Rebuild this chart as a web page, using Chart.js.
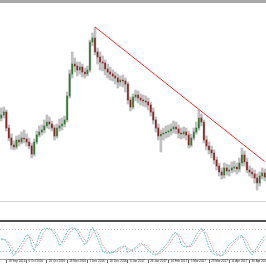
<!DOCTYPE html>
<html>
<head>
<meta charset="utf-8">
<script src="https://cdn.jsdelivr.net/npm/chart.js@4.4.0/dist/chart.umd.min.js"></script>
<style>
  html, body { margin: 0; padding: 0; background: #fff; }
  #wrap { position: relative; width: 266px; height: 266px; overflow: hidden; background: #fff; }
  #topbar { position: absolute; left: 0; top: 0; width: 266px; height: 3px; background: #a8a8a8; }
  #priceChart { position: absolute; left: 0; top: 3px; width: 266px; height: 217px; }
  #sep { position: absolute; left: 0; top: 220px; width: 266px; height: 2px; background: #505050; }
  #stochChart { position: absolute; left: 0; top: 222px; width: 266px; height: 44px; }
</style>
</head>
<body>
<div id="wrap">
  <div id="topbar"></div>
  <canvas id="priceChart" width="266" height="217"></canvas>
  <div id="sep"></div>
  <canvas id="stochChart" width="266" height="44"></canvas>
</div>
<script>
// date labels shown under the oscillator, one every 8 bars starting at bar 2
var tickLabels = ['18 Sep 2016', '6 Oct 2016', '26 Oct 2016', '13 Nov 2016', '1 Dec 2016', '20 Dec 2016',
  '6 Jan 2017', '26 Jan 2017', '14 Feb 2017', '5 Mar 2017', '23 Mar 2017', '11 Apr 2017', '30 Apr 2017'];
var firstTickBar = 2;
var barsPerTick = 8;

var opens = [
  0.9910, 0.9925, 0.9940, 0.9860, 0.9810, 0.9775, 0.9765, 0.9800, 0.9790, 0.9810,
  0.9805, 0.9790, 0.9770, 0.9730, 0.9790, 0.9825, 0.9840, 0.9850, 0.9870, 0.9890,
  0.9880, 0.9860, 0.9820, 0.9860, 0.9870, 0.9880, 0.9900, 1.0020, 1.0130, 1.0180,
  1.0170, 1.0150, 1.0165, 1.0140, 1.0130, 1.0150, 1.0290, 1.0310, 1.0240, 1.0215,
  1.0190, 1.0185, 1.0155, 1.0140, 1.0130, 1.0120, 1.0110, 1.0090, 1.0100, 1.0095,
  1.0080, 1.0000, 0.9965, 1.0015, 1.0025, 1.0010, 1.0000, 0.9995, 0.9990, 0.9975,
  0.9940, 0.9900, 0.9860, 0.9820, 0.9830, 0.9835, 0.9840, 0.9845, 0.9855, 0.9865,
  0.9855, 0.9835, 0.9830, 0.9840, 0.9825, 0.9775, 0.9810, 0.9840, 0.9860, 0.9910,
  0.9890, 0.9800, 0.9770, 0.9750, 0.9735, 0.9700, 0.9670, 0.9640, 0.9625, 0.9660,
  0.9645, 0.9650, 0.9660, 0.9665, 0.9655, 0.9685, 0.9725, 0.9690, 0.9650, 0.9640,
  0.9630, 0.9610, 0.9585, 0.9620, 0.9635
];
var highs = [
  0.9960, 0.9965, 0.9950, 0.9875, 0.9830, 0.9795, 0.9820, 0.9825, 0.9840, 0.9850,
  0.9830, 0.9810, 0.9785, 0.9805, 0.9845, 0.9870, 0.9875, 0.9900, 0.9925, 0.9915,
  0.9895, 0.9875, 0.9880, 0.9905, 0.9910, 0.9920, 1.0040, 1.0150, 1.0240, 1.0210,
  1.0190, 1.0190, 1.0180, 1.0160, 1.0170, 1.0300, 1.0335, 1.0365, 1.0260, 1.0240,
  1.0220, 1.0200, 1.0180, 1.0165, 1.0150, 1.0140, 1.0130, 1.0120, 1.0125, 1.0110,
  1.0090, 1.0015, 1.0030, 1.0050, 1.0045, 1.0030, 1.0025, 1.0020, 1.0010, 0.9990,
  0.9960, 0.9915, 0.9880, 0.9850, 0.9860, 0.9870, 0.9875, 0.9880, 0.9895, 0.9890,
  0.9875, 0.9860, 0.9865, 0.9860, 0.9845, 0.9830, 0.9860, 0.9890, 0.9950, 0.9930,
  0.9900, 0.9820, 0.9790, 0.9770, 0.9750, 0.9715, 0.9685, 0.9660, 0.9685, 0.9680,
  0.9675, 0.9690, 0.9695, 0.9685, 0.9710, 0.9760, 0.9745, 0.9710, 0.9670, 0.9660,
  0.9650, 0.9630, 0.9640, 0.9660, 0.9655
];
var lows = [
  0.9895, 0.9910, 0.9845, 0.9795, 0.9755, 0.9750, 0.9755, 0.9770, 0.9780, 0.9785,
  0.9770, 0.9755, 0.9710, 0.9720, 0.9780, 0.9815, 0.9825, 0.9835, 0.9860, 0.9855,
  0.9845, 0.9800, 0.9810, 0.9845, 0.9850, 0.9865, 0.9890, 1.0010, 1.0110, 1.0140,
  1.0120, 1.0130, 1.0115, 1.0110, 1.0120, 1.0140, 1.0270, 1.0225, 1.0180, 1.0150,
  1.0145, 1.0125, 1.0110, 1.0100, 1.0095, 1.0080, 1.0060, 1.0070, 1.0065, 1.0040,
  0.9980, 0.9945, 0.9955, 0.9995, 0.9985, 0.9975, 0.9970, 0.9965, 0.9950, 0.9920,
  0.9880, 0.9840, 0.9800, 0.9740, 0.9800, 0.9810, 0.9815, 0.9825, 0.9835, 0.9830,
  0.9810, 0.9805, 0.9810, 0.9800, 0.9760, 0.9765, 0.9800, 0.9830, 0.9850, 0.9870,
  0.9785, 0.9750, 0.9730, 0.9710, 0.9680, 0.9650, 0.9620, 0.9605, 0.9610, 0.9625,
  0.9620, 0.9635, 0.9640, 0.9630, 0.9640, 0.9670, 0.9670, 0.9635, 0.9620, 0.9610,
  0.9585, 0.9550, 0.9570, 0.9605, 0.9595
];
var closes = [
  0.9925, 0.9940, 0.9860, 0.9810, 0.9775, 0.9765, 0.9800, 0.9790, 0.9810, 0.9805,
  0.9790, 0.9770, 0.9730, 0.9790, 0.9825, 0.9840, 0.9850, 0.9870, 0.9890, 0.9880,
  0.9860, 0.9820, 0.9860, 0.9870, 0.9880, 0.9900, 1.0020, 1.0130, 1.0180, 1.0170,
  1.0150, 1.0165, 1.0140, 1.0130, 1.0150, 1.0290, 1.0310, 1.0240, 1.0215, 1.0190,
  1.0185, 1.0155, 1.0140, 1.0130, 1.0120, 1.0110, 1.0090, 1.0100, 1.0095, 1.0080,
  1.0000, 0.9965, 1.0015, 1.0025, 1.0010, 1.0000, 0.9995, 0.9990, 0.9975, 0.9940,
  0.9900, 0.9860, 0.9820, 0.9830, 0.9835, 0.9840, 0.9845, 0.9855, 0.9865, 0.9855,
  0.9835, 0.9830, 0.9840, 0.9825, 0.9775, 0.9810, 0.9840, 0.9860, 0.9910, 0.9890,
  0.9800, 0.9770, 0.9750, 0.9735, 0.9700, 0.9670, 0.9640, 0.9625, 0.9660, 0.9645,
  0.9650, 0.9660, 0.9665, 0.9655, 0.9685, 0.9725, 0.9690, 0.9650, 0.9640, 0.9630,
  0.9610, 0.9585, 0.9620, 0.9635, 0.9615
];

// stochastic oscillator, %K and %D
var stochMain = [
  52, 54, 47, 36, 20, 8, 20, 32, 42, 52,
  66, 62, 38, 22, 42, 65, 78, 82, 83, 82,
  77, 68, 56, 36, 45, 60, 72, 82, 84, 83,
  74, 62, 50, 38, 48, 74, 85, 72, 55, 38,
  22, 17, 16, 16, 18, 22, 28, 32, 34, 36,
  17, 22, 27, 31, 37, 43, 38, 32, 24, 17,
  12, 11, 16, 22, 29, 38, 46, 58, 69, 72,
  62, 40, 34, 32, 34, 37, 52, 66, 75, 83,
  74, 52, 32, 19, 13, 11, 9, 8, 18, 29,
  38, 45, 50, 56, 61, 64, 46, 30, 20, 11,
  22, 32, 45, 54, 62
];
var stochSignal = [
  55, 54, 51, 45, 34, 21, 16, 20, 31, 42,
  53, 60, 55, 41, 34, 43, 62, 75, 81, 82,
  81, 76, 67, 53, 46, 47, 59, 71, 79, 83,
  80, 73, 62, 50, 45, 53, 69, 77, 71, 55,
  38, 26, 18, 16, 17, 19, 23, 27, 31, 34,
  29, 25, 22, 27, 32, 37, 39, 38, 31, 24,
  18, 13, 13, 16, 22, 30, 38, 47, 58, 66,
  68, 58, 45, 35, 33, 34, 41, 52, 64, 75,
  77, 70, 53, 34, 21, 14, 11, 9, 12, 18,
  28, 37, 44, 50, 56, 60, 57, 47, 32, 20,
  18, 22, 33, 44, 54
];
var stochLevels = [20, 80];

// trend line from the December high, and the faint level line under the price
var trendFrom = { bar: 37, price: 1.0365 };
var trendTo = { bar: 104, price: 0.9692 };
var levelLine = 0.9490;

var bars = closes.map(function (c, i) { return i; });
var upColor = '#2f7a30';
var downColor = '#8c2222';
var wickColor = '#c0c0c0';
var bodyColors = closes.map(function (c, i) { return c >= opens[i] ? upColor : downColor; });

var trend = bars.map(function (i) {
  if (i === trendFrom.bar) return trendFrom.price;
  if (i === trendTo.bar) return trendTo.price;
  return null;
});

var priceChart = new Chart(document.getElementById('priceChart'), {
  type: 'bar',
  data: {
    labels: bars,
    datasets: [
      {
        type: 'line',
        data: trend,
        borderColor: '#ff2b2b',
        borderWidth: 1,
        pointRadius: 0,
        spanGaps: true,
        order: 0
      },
      {
        data: opens.map(function (o, i) { return [o, closes[i]]; }),
        backgroundColor: bodyColors,
        barThickness: 1,
        grouped: false,
        order: 1
      },
      {
        data: lows.map(function (l, i) { return [l, highs[i]]; }),
        backgroundColor: wickColor,
        barThickness: 2,
        grouped: false,
        order: 2
      }
    ]
  },
  options: {
    responsive: false,
    animation: false,
    devicePixelRatio: 1,
    layout: { padding: 0 },
    plugins: { legend: { display: false }, tooltip: { enabled: false } },
    scales: {
      x: { display: false },
      y: {
        min: 0.9400,
        max: 1.0485,
        afterBuildTicks: function (s) { s.ticks = [{ value: levelLine }]; },
        ticks: { display: false },
        border: { display: false },
        grid: { color: '#d4d4d4', drawTicks: false }
      }
    }
  }
});

var stochChart = new Chart(document.getElementById('stochChart'), {
  type: 'line',
  data: {
    labels: bars,
    datasets: [
      {
        data: stochMain,
        borderColor: '#5cc8cc',
        borderWidth: 1,
        borderDash: [2, 1],
        pointRadius: 0
      },
      {
        data: stochSignal,
        borderColor: '#f08080',
        borderWidth: 1,
        borderDash: [1, 1],
        pointRadius: 0
      }
    ]
  },
  options: {
    responsive: false,
    animation: false,
    devicePixelRatio: 1,
    layout: { padding: 0 },
    plugins: { legend: { display: false }, tooltip: { enabled: false } },
    scales: {
      x: {
        offset: true,
        afterBuildTicks: function (s) {
          s.ticks = s.ticks.filter(function (t) {
            return t.value >= firstTickBar && (t.value - firstTickBar) % barsPerTick === 0;
          });
        },
        afterFit: function (s) { s.height = 7; },
        grid: { offset: false, drawOnChartArea: false, tickLength: 4, color: '#666' },
        border: { color: '#9a9a9a' },
        ticks: {
          autoSkip: false,
          maxRotation: 0,
          align: 'start',
          labelOffset: 2,
          padding: -4,
          color: '#222',
          font: { family: 'Liberation Sans', size: 3 },
          callback: function (v) { return tickLabels[(v - firstTickBar) / barsPerTick]; }
        }
      },
      y: {
        min: 0,
        max: 100,
        afterBuildTicks: function (s) { s.ticks = stochLevels.map(function (v) { return { value: v }; }); },
        ticks: { display: false },
        border: { display: false, dash: [1, 2] },
        grid: { color: '#b8b8b8', drawTicks: false }
      }
    }
  }
});
</script>
</body>
</html>
